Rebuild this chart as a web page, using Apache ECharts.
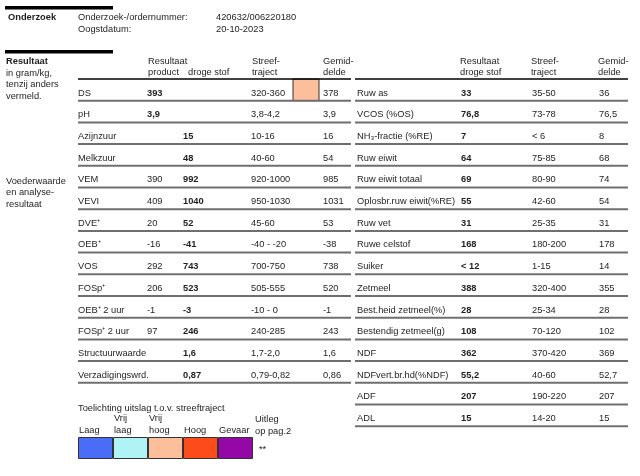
<!DOCTYPE html>
<html><head><meta charset="utf-8">
<script src="https://cdn.jsdelivr.net/npm/echarts@6/dist/echarts.min.js"></script>
<style>html,body{margin:0;padding:0;background:#fff}#c{width:640px;height:476px}</style>
</head><body><div id="c"></div>
<script>
// ---- data ----
const leftLabels = ['DS','pH','Azijnzuur','Melkzuur','VEM','VEVI','DVE\u207A','OEB\u207A','VOS','FOSp\u207A','OEB\u207A 2 uur','FOSp\u207A 2 uur','Structuurwaarde','Verzadigingswrd.'];
const leftProduct = ['393','3,9','','','390','409','20','-16','292','206','-1','97','',''];
const leftDrogeStof = ['','','15','48','992','1040','52','-41','743','523','-3','246','1,6','0,87'];
const leftTarget = ['320-360','3,8-4,2','10-16','40-60','920-1000','950-1030','45-60','-40 - -20','700-750','505-555','-10 - 0','240-285','1,7-2,0','0,79-0,82'];
const leftAvg = ['378','3,9','16','54','985','1031','53','-38','738','520','-1','243','1,6','0,86'];
const leftStatus = ['Vrij hoog',null,null,null,null,null,null,null,null,null,null,null,null,null];

const rightLabels = ['Ruw as','VCOS (%OS)','NH\u2083-fractie (%RE)','Ruw eiwit','Ruw eiwit totaal','Oplosbr.ruw eiwit(%RE)','Ruw vet','Ruwe celstof','Suiker','Zetmeel','Best.heid zetmeel(%)','Bestendig zetmeel(g)','NDF','NDFvert.br.hd(%NDF)','ADF','ADL'];
const rightResult = ['33','76,8','7','64','69','55','31','168','< 12','388','28','108','362','55,2','207','15'];
const rightTarget = ['35-50','73-78','< 6','75-85','80-90','42-60','25-35','180-200','1-15','320-400','25-34','70-120','370-420','40-60','190-220','14-20'];
const rightAvg = ['36','76,5','8','68','74','54','31','178','14','355','28','102','369','52,7','207','15'];

const legendKeys = ['Laag','Vrij laag','Vrij hoog','Hoog','Gevaar'];
const legendColors = ['#4a6cf7','#aff3f6','#fdbe9c','#fd4b1b','#9508a8'];

// ---- styling ----
const FONT = '"Liberation Sans", Arial, sans-serif';
const FS = 9.3;
const TXT = '#1e1e1e';
const ROW_OFF = 0.645;
const ROW_H = 21.7;

function cellText(x, y, s, bold) {
  return {type:'text', style:{text:s, x:x, y:y, fill:TXT, fontSize:FS, fontFamily:FONT,
    fontWeight: bold ? 'bold' : 'normal', verticalAlign:'middle', align:'left'}};
}

function makeRender(cols, x1, x2, status) {
  return function(params, api) {
    const i = params.dataIndex;
    const ch = [];
    const yT = api.coord([0, i + ROW_OFF])[1];
    const yTop = api.coord([0, i])[1];
    const yBot = api.coord([0, i + 1])[1];
    const px = v => api.coord([v, 0])[0];
    if (status && status[i]) {
      const k = legendKeys.indexOf(status[i]);
      ch.push({type:'rect', shape:{x:px(293), y:yTop, width:px(319)-px(293), height:yBot-yTop},
        style:{fill:legendColors[k], stroke:'#333', lineWidth:1}});
    }
    if (i === 0) {
      ch.push({type:'line', shape:{x1:px(x1), y1:yTop, x2:px(x2), y2:yTop}, style:{stroke:'#000', lineWidth:1.4}});
    }
    ch.push({type:'line', shape:{x1:px(x1), y1:yBot, x2:px(x2), y2:yBot}, style:{stroke:'#6f6f6f', lineWidth:2}});
    cols.forEach(c => {
      const s = c.values[i];
      if (s) ch.push(cellText(px(c.x), yT, s, c.bold(i)));
    });
    return {type:'group', children: ch};
  };
}

const leftCols = [
  {x:78, values:leftLabels, bold:()=>false},
  {x:147, values:leftProduct, bold:i=>!leftDrogeStof[i]},
  {x:183, values:leftDrogeStof, bold:()=>true},
  {x:251, values:leftTarget, bold:()=>false},
  {x:323, values:leftAvg, bold:()=>false}
];
const rightCols = [
  {x:357, values:rightLabels, bold:()=>false},
  {x:461, values:rightResult, bold:()=>true},
  {x:532, values:rightTarget, bold:()=>false},
  {x:599, values:rightAvg, bold:()=>false}
];

function gtext(x, y, s, bold, vAlign) {
  return {type:'text', x:x, y:y, silent:true, style:{text:s, fill:TXT, fontSize:FS, fontFamily:FONT,
    fontWeight: bold?'bold':'normal', verticalAlign: vAlign || 'middle', align:'left', lineHeight:11.6}};
}

const graphics = [
  {type:'rect', shape:{x:5, y:6, width:108, height:3.5}, style:{fill:'#000'}},
  {type:'rect', shape:{x:5, y:50, width:108, height:3.5}, style:{fill:'#000'}},
  gtext(8, 17, 'Onderzoek', true),
  gtext(78, 17, 'Onderzoek-/ordernummer:'),
  gtext(78, 29, 'Oogstdatum:'),
  gtext(216, 17, '420632/006220180'),
  gtext(216, 29, '20-10-2023'),
  gtext(6, 61, 'Resultaat', true),
  gtext(6, 73, 'in gram/kg,'),
  gtext(6, 84.5, 'tenzij anders'),
  gtext(6, 96, 'vermeld.'),
  gtext(6, 181, 'Voederwaarde'),
  gtext(6, 192.5, 'en analyse-'),
  gtext(6, 204, 'resultaat'),
  gtext(148, 61, 'Resultaat'),
  gtext(148, 72.5, 'product'),
  gtext(188, 72.5, 'droge stof'),
  gtext(252, 61, 'Streef-'),
  gtext(252, 72.5, 'traject'),
  gtext(323, 61, 'Gemid-'),
  gtext(323, 72.5, 'delde'),
  gtext(460, 61, 'Resultaat'),
  gtext(460, 72.5, 'droge stof'),
  gtext(531, 61, 'Streef-'),
  gtext(531, 72.5, 'traject'),
  gtext(598, 61, 'Gemid-'),
  gtext(598, 72.5, 'delde'),
  gtext(78, 408, 'Toelichting uitslag t.o.v. streeftraject'),
  gtext(255, 437, 'Uitleg\nop pag.2', false, 'bottom'),
  gtext(259, 449, '**')
];

const chart = echarts.init(document.getElementById('c'), null, {renderer:'canvas'});
chart.setOption({
  animation:false,
  backgroundColor:'#fff',
  grid:[
    {left:0, width:640, top:79, height:ROW_H*leftLabels.length},
    {left:0, width:640, top:79, height:ROW_H*rightLabels.length},
    {left:78, width:175, top:437, height:22}
  ],
  xAxis:[
    {type:'value', gridIndex:0, min:0, max:640, show:false},
    {type:'value', gridIndex:1, min:0, max:640, show:false},
    {type:'category', gridIndex:2, data:legendKeys, show:false}
  ],
  yAxis:[
    {type:'value', gridIndex:0, min:0, max:leftLabels.length, inverse:true, show:false},
    {type:'value', gridIndex:1, min:0, max:rightLabels.length, inverse:true, show:false},
    {type:'value', gridIndex:2, min:0, max:1, show:false}
  ],
  graphic: graphics,
  series:[
    {type:'custom', xAxisIndex:0, yAxisIndex:0, silent:true,
     data:leftLabels.map((_, i) => [0, i]), encode:{x:0, y:1},
     renderItem: makeRender(leftCols, 78, 351, leftStatus)},
    {type:'custom', xAxisIndex:1, yAxisIndex:1, silent:true,
     data:rightLabels.map((_, i) => [0, i]), encode:{x:0, y:1},
     renderItem: makeRender(rightCols, 355, 628, null)},
    {type:'bar', xAxisIndex:2, yAxisIndex:2, silent:true, barCategoryGap:0, barWidth:'100%',
     data: legendKeys.map((k, i) => ({value:1, itemStyle:{color:legendColors[i]}})),
     itemStyle:{borderColor:'#333', borderWidth:1},
     label:{show:true, position:[1,-1], align:'left', verticalAlign:'bottom',
       formatter: p => p.name.replace(' ', '\n'), color:TXT, fontSize:FS, fontFamily:FONT, lineHeight:11.6}}
  ]
});
</script></body></html>
